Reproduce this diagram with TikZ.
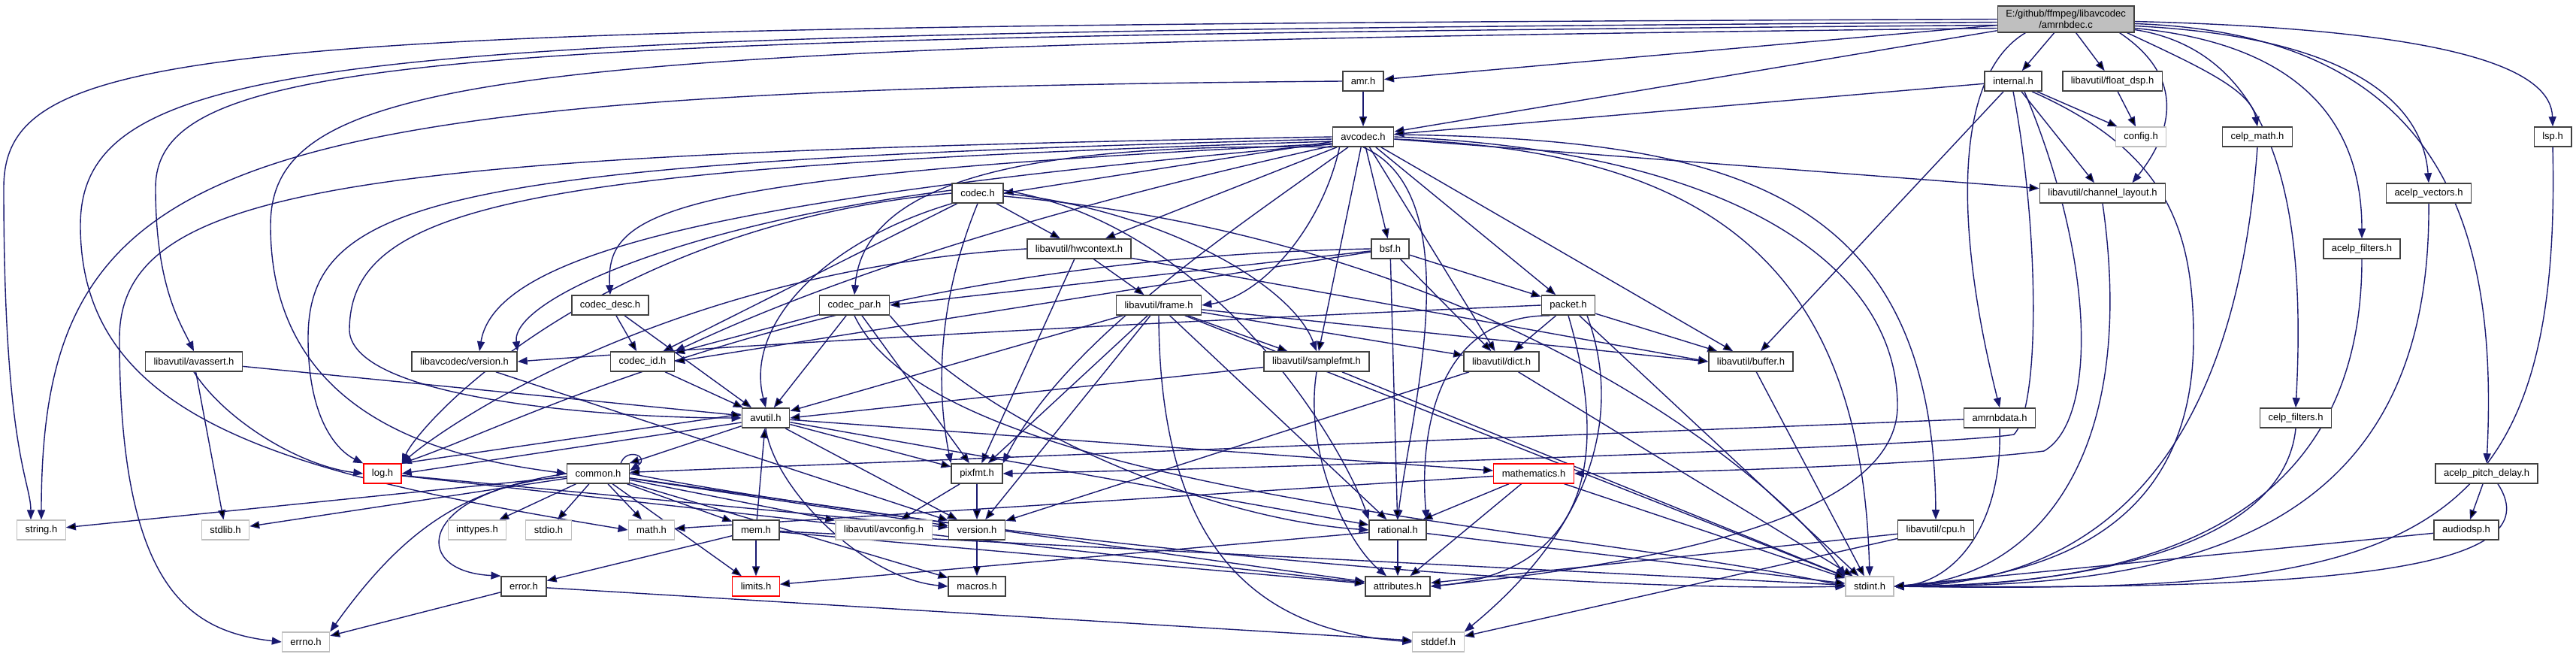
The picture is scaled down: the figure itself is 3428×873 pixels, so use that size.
\documentclass[tikz,border=0pt]{standalone}
\usepackage{fontspec}
\newfontfamily\dotfont{Liberation Sans}
\usetikzlibrary{arrows.meta}
\definecolor{DepBlue}{HTML}{191970}
\definecolor{DepLine}{HTML}{404040}
\definecolor{DepGrey}{HTML}{BFBFBF}
\definecolor{DepRed}{HTML}{FF0000}
\pgfdeclarelayer{bg}
\pgfsetlayers{bg,main}
\begin{document}
\begin{tikzpicture}[x=1pt,y=1pt]
  \tikzset{hf/.style={draw=DepLine,line width=1.6pt,fill=white,minimum height=26pt,inner xsep=11pt,inner ysep=0pt,font=\dotfont\fontsize{13pt}{15pt}\selectfont},
    sf/.style={hf,draw=DepGrey,line width=1.2pt},
    rf/.style={hf,draw=DepRed,line width=1.3pt},
    rootf/.style={hf,fill=DepGrey,align=center,inner ysep=5pt},
    e/.style={draw=DepBlue,line width=1.4pt,-{Stealth[length=13pt,width=10pt,inset=0pt]}}}
  \useasboundingbox (0,0) rectangle (3428,-873);
  \node[rootf] (root) at (2749,-25.5) {E:/github/ffmpeg/libavcodec\\/amrnbdec.c};
  \node[hf] (amr) at (1814,-108) {amr.h};
  \node[hf] (internal) at (2679,-108) {internal.h};
  \node[hf] (floatdsp) at (2811,-108) {libavutil/float\_dsp.h};
  \node[hf] (avcodec) at (1814,-182) {avcodec.h};
  \node[sf] (config) at (2849,-182) {config.h};
  \node[hf] (celpmath) at (3004,-182) {celp\_math.h};
  \node[hf] (lsp) at (3397,-182) {lsp.h};
  \node[hf] (codec) at (1301,-257) {codec.h};
  \node[hf] (chlayout) at (2798,-257) {libavutil/channel\_layout.h};
  \node[hf] (acelpvec) at (3232,-257) {acelp\_vectors.h};
  \node[hf] (hwctx) at (1436,-331) {libavutil/hwcontext.h};
  \node[hf] (bsf) at (1850,-331) {bsf.h};
  \node[hf] (acelpfilt) at (3143,-331) {acelp\_filters.h};
  \node[hf] (codecdesc) at (812,-406) {codec\_desc.h};
  \node[hf] (codecpar) at (1137,-406) {codec\_par.h};
  \node[hf] (frame) at (1542,-406) {libavutil/frame.h};
  \node[hf] (packet) at (2087,-406) {packet.h};
  \node[hf] (avassert) at (258,-481) {libavutil/avassert.h};
  \node[hf] (lavcver) at (618,-481) {libavcodec/version.h};
  \node[hf] (codecid) at (855,-481) {codec\_id.h};
  \node[hf] (samplefmt) at (1752,-481) {libavutil/samplefmt.h};
  \node[hf] (dict) at (1998,-481) {libavutil/dict.h};
  \node[hf] (buffer) at (2330,-481) {libavutil/buffer.h};
  \node[hf] (avutil) at (1019,-556) {avutil.h};
  \node[hf] (amrnbdata) at (2661,-556) {amrnbdata.h};
  \node[hf] (celpfilt) at (3055,-556) {celp\_filters.h};
  \node[rf] (logh) at (509,-630) {log.h};
  \node[hf] (commonh) at (796,-630) {common.h};
  \node[hf] (pixfmt) at (1300,-630) {pixfmt.h};
  \node[rf] (mathem) at (2041,-630) {mathematics.h};
  \node[hf] (pitch) at (3309,-630) {acelp\_pitch\_delay.h};
  \node[sf] (stringh) at (55,-705) {string.h};
  \node[sf] (stdlibh) at (300,-705) {stdlib.h};
  \node[sf] (inttypes) at (635,-705) {inttypes.h};
  \node[sf] (stdioh) at (730,-705) {stdio.h};
  \node[sf] (mathh) at (867,-705) {math.h};
  \node[hf] (mem) at (1006,-705) {mem.h};
  \node[sf] (avconfig) at (1176,-705) {libavutil/avconfig.h};
  \node[hf] (version) at (1300,-705) {version.h};
  \node[hf] (rational) at (1860,-705) {rational.h};
  \node[hf] (cpu) at (2576,-705) {libavutil/cpu.h};
  \node[hf] (audiodsp) at (3282,-705) {audiodsp.h};
  \node[hf] (error) at (697,-780) {error.h};
  \node[rf] (limits) at (1006,-780) {limits.h};
  \node[hf] (macros) at (1300,-780) {macros.h};
  \node[hf] (attributes) at (1860,-780) {attributes.h};
  \node[sf] (stdint) at (2488,-780) {stdint.h};
  \node[sf] (errno) at (407,-854) {errno.h};
  \node[sf] (stddef) at (1914,-854) {stddef.h};
  \begin{pgfonlayer}{bg}
  \fill[white] (0,0) rectangle (3428,-873);
  % amrnbdec.c
  \path[e] (root) edge (amr) edge (avcodec) edge (internal) edge (floatdsp);
  \draw[e] (root.west) .. controls (300,-35) and (5,-50) .. (5,-250) .. controls (5,-600) and (41,-640) .. ([xshift=-14pt]stringh.north);
  \draw[e] ([yshift=-4pt]root.west) .. controls (500,-45) and (107,-60) .. (107,-300) .. controls (107,-560) and (380,-630) .. (mathh.west);
  \draw[e] ([yshift=-8pt]root.west) .. controls (600,-50) and (207,-70) .. (207,-250) .. controls (207,-380) and (240,-430) .. (avassert.north);
  \draw[e] ([yshift=-12pt]root.west) .. controls (700,-60) and (360,-90) .. (360,-300) .. controls (360,-560) and (600,-610) .. (commonh.west);
  \draw[e] ([xshift=-20pt]root.south east) .. controls (2920,-110) and (2880,-190) .. ([xshift=-45pt]chlayout.north east);
  \draw[e] ([xshift=38pt]root.south west) .. controls (2600,-100) and (2600,-300) .. (amrnbdata.north);
  \draw[e] ([xshift=-10pt]root.south east) .. controls (2930,-90) and (2995,-120) .. (celpmath.north);
  \draw[e] ([yshift=-14pt]root.east) .. controls (3040,-70) and (3068,-300) .. (celpfilt.north);
  \draw[e] ([yshift=-12pt]root.east) .. controls (3080,-60) and (3143,-180) .. (acelpfilt.north);
  \draw[e] ([yshift=-9pt]root.east) .. controls (3150,-50) and (3225,-150) .. (acelpvec.north);
  \draw[e] ([yshift=-6pt]root.east) .. controls (3250,-45) and (3325,-300) .. (pitch.north);
  \draw[e] ([yshift=-3pt]root.east) .. controls (3300,-40) and (3395,-100) .. (lsp.north);
  % amr.h, internal.h
  \path[e] (amr) edge (avcodec);
  \draw[e] (amr.west) .. controls (300,-120) and (55,-200) .. (stringh.north);
  \path[e] (internal) edge (avcodec) edge (config) edge (chlayout) edge (buffer);
  \draw[e] (internal.south) .. controls (2713,-300) and (2716,-540) .. (2680,-578) .. controls (2600,-592) and (1800,-620) .. (pixfmt.east);
  \draw[e] ([xshift=15pt]internal.south) .. controls (2790,-350) and (2790,-560) .. (2720,-600) .. controls (2600,-615) and (2300,-628) .. (mathem.east);
  \draw[e] ([xshift=25pt]internal.south) .. controls (2880,-200) and (2919,-300) .. (2919,-450) .. controls (2919,-720) and (2700,-770) .. (stdint.east);
  % avcodec.h
  \path[e] (avcodec) edge (codec.east) edge (hwctx) edge (samplefmt) edge (dict) edge (buffer) edge (bsf) edge (packet) edge (chlayout);
  \draw[e] (avcodec.west) .. controls (500,-205) and (159,-240) .. (159,-450) .. controls (159,-780) and (250,-840) .. (errno.west);
  \draw[e] ([yshift=-3pt]avcodec.west) .. controls (600,-215) and (410,-260) .. (410,-450) .. controls (410,-560) and (450,-600) .. (logh.north west);
  \draw[e] ([yshift=-6pt]avcodec.west) .. controls (700,-222) and (465,-270) .. (465,-440) .. controls (470,-530) and (800,-556) .. (avutil.west);
  \draw[e] ([yshift=-9pt]avcodec.west) .. controls (880,-235) and (806,-280) .. (codecdesc.north);
  \draw[e] ([yshift=4pt]avcodec.south west) .. controls (1000,-260) and (660,-330) .. ([xshift=20pt]lavcver.north);
  \draw[e] (avcodec.south west) .. controls (1400,-190) and (1150,-230) .. (codecpar.north);
  \draw[e] ([yshift=-12pt]avcodec.west) .. controls (1200,-320) and (960,-440) .. (codecid.north east);
  \draw[e] ([xshift=10pt]avcodec.south west) .. controls (1760,-300) and (1680,-395) .. (frame.east);
  \draw[e] ([xshift=-20pt]avcodec.south) .. controls (1650,-300) and (1420,-450) .. (pixfmt.north east);
  \draw[e] (avcodec.south) .. controls (1960,-260) and (1875,-560) .. (rational.north);
  \draw[e] (avcodec.east) .. controls (2300,-200) and (2525,-350) .. (2525,-540) .. controls (2525,-690) and (2200,-750) .. (attributes.east);
  \draw[e] ([yshift=3pt]avcodec.east) .. controls (2300,-185) and (2573,-250) .. (cpu.north);
  \draw[e] ([yshift=-3pt]avcodec.east) .. controls (2250,-200) and (2477,-330) .. (stdint.north);
  % codec.h, hwcontext.h, bsf.h
  \path[e] (codec) edge (codecid) edge (hwctx);
  \draw[e] (codec.east) .. controls (1550,-280) and (1720,-380) .. (samplefmt.north);
  \draw[e] (codec.west) .. controls (800,-300) and (560,-560) .. (logh.north east);
  \draw[e] (codec.south west) .. controls (1100,-320) and (990,-430) .. (avutil.north);
  \draw[e] ([yshift=4pt]codec.west) .. controls (900,-300) and (680,-400) .. (lavcver.north east);
  \draw[e] (codec.south) .. controls (1240,-420) and (1250,-540) .. (pixfmt.north west);
  \draw[e] ([yshift=4pt]codec.east) .. controls (1620,-300) and (1790,-600) .. (rational.north west);
  \draw[e] ([yshift=-4pt]codec.east) .. controls (2000,-320) and (2380,-650) .. (stdint.north west);
  \path[e] (hwctx) edge (frame) edge (pixfmt) edge (buffer.west);
  \draw[e] (hwctx.west) .. controls (900,-360) and (600,-560) .. (logh.north east);
  \path[e] (bsf) edge (codecpar.east) edge (packet) edge (dict) edge (rational) edge (codecid.east);
  \draw[e] (bsf.west) .. controls (1100,-345) and (700,-560) .. (logh.north east);
  % codec_desc.h, codec_par.h, frame.h, packet.h
  \path[e] (codecdesc) edge (avutil) edge (codecid);
  \path[e] (codecpar) edge (codecid) edge (avutil) edge (pixfmt);
  \draw[e] (codecpar.south east) .. controls (1300,-560) and (1600,-690) .. (rational.west);
  \draw[e] (codecpar.south) .. controls (1250,-660) and (2100,-700) .. (stdint.west);
  \path[e] (frame) edge (avutil) edge (buffer.west) edge (dict) edge (rational) edge (samplefmt) edge (pixfmt) edge (version) edge (stdint);
  \draw[e] (frame.south) .. controls (1543,-760) and (1700,-840) .. (stddef.west);
  \path[e] (packet) edge (buffer) edge (dict) edge (stdint);
  \draw[e] (packet.west) .. controls (1500,-430) and (1000,-458) .. (lavcver.east);
  \draw[e] ([xshift=-25pt]packet.south) .. controls (1900,-420) and (1890,-600) .. (rational.north east);
  \draw[e] (packet.south) .. controls (2140,-600) and (2120,-760) .. (attributes.east);
  \draw[e] ([xshift=25pt]packet.south) .. controls (2160,-550) and (2120,-700) .. (stddef.north east);
  % libavutil
  \path[e] (samplefmt) edge (avutil.east) edge (stdint);
  \draw[e] (samplefmt.south) .. controls (1735,-600) and (1790,-720) .. ([xshift=-15pt]attributes.north);
  \path[e] (dict) edge (version) edge (stdint);
  \path[e] (buffer) edge (stdint);
  \path[e] (avutil) edge (commonh) edge (version) edge (mathem) edge (rational) edge (pixfmt);
  \draw[e] ([yshift=-6pt]avutil.west) -- (logh.east);
  \draw[e] (logh.north east) -- ([yshift=5pt]avutil.west);
  \draw[e] (avutil.south) .. controls (1030,-650) and (1150,-770) .. (macros.west);
  \path[e] (logh) edge (attributes) edge (version);
  \path[e] (commonh) edge (stringh) edge (stdlibh) edge (inttypes) edge (stdioh) edge (mathh) edge (limits) edge (macros) edge (version) edge (avconfig) edge (mem) edge (attributes);
  \draw[e] (commonh.west) .. controls (620,-650) and (540,-700) .. (errno.north east);
  \draw[e] ([yshift=-4pt]commonh.west) .. controls (560,-650) and (540,-760) .. (error.north west);
  \draw[e] (commonh.east) .. controls (1200,-700) and (2000,-790) .. (stdint.west);
  \draw[e] ([xshift=-12pt]commonh.north east) .. controls +(8,22) and +(28,18) .. ([yshift=4pt]commonh.east);
  \path[e] (mem) edge (avutil) edge (limits) edge (error) edge (attributes) edge (stdint);
  \path[e] (error) edge (errno) edge (stddef);
  \path[e] (mathem) edge (attributes) edge (rational) edge (stdint) edge (mathh);
  \path[e] (rational) edge (attributes) edge (stdint) edge (limits);
  \path[e] (pixfmt) edge (avconfig) edge (version);
  \path[e] (version) edge (macros);
  \path[e] (cpu) edge (attributes) edge (stddef);
  \path[e] (avassert) edge (avutil) edge (stdlibh);
  \draw[e] (avassert.south) .. controls (300,-560) and (400,-620) .. (logh.west);
  \path[e] (lavcver) edge (version);
  \path[e] (codecid) edge (avutil);
  \path[e] (floatdsp) edge (config);
  % codec helpers
  \path[e] (amrnbdata) edge (commonh);
  \draw[e] (amrnbdata.south) .. controls (2665,-700) and (2600,-775) .. (stdint.east);
  \draw[e] (chlayout.south) .. controls (2848,-620) and (2700,-772) .. (stdint.east);
  \draw[e] (celpmath.south) .. controls (2971,-650) and (2760,-776) .. (stdint.east);
  \draw[e] (celpfilt.south) .. controls (3040,-720) and (2800,-778) .. (stdint.east);
  \draw[e] (acelpfilt.south) .. controls (3143,-700) and (2850,-779) .. (stdint.east);
  \draw[e] (acelpvec.south) .. controls (3236,-720) and (2900,-780) .. (stdint.east);
  \draw[e] ([xshift=15pt]pitch.south) .. controls (3400,-760) and (3100,-785) .. (stdint.east);
  \draw[e] (lsp.south) .. controls (3410,-740) and (3200,-790) .. (stdint.east);
  \path[e] (pitch) edge (audiodsp);
  \path[e] (audiodsp) edge (stdint.east);
  \end{pgfonlayer}
\end{tikzpicture}
\end{document}
